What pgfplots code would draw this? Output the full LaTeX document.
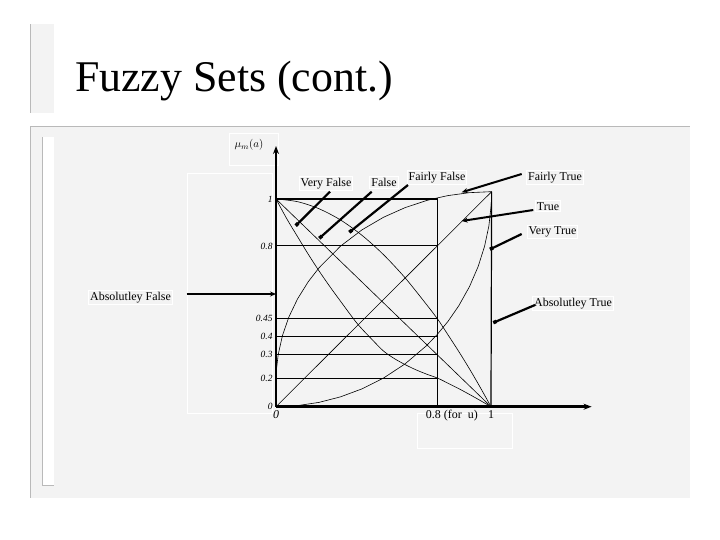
\documentclass[border=0pt]{standalone}
\usepackage{pgfplots}
\pgfplotsset{compat=1.18}
\usepackage{fontspec}
\setmainfont{Liberation Serif}
\usetikzlibrary{arrows.meta}
\definecolor{panel}{RGB}{243,243,243}
\definecolor{frame}{RGB}{185,185,185}
\begin{document}
\begin{tikzpicture}
\useasboundingbox (0,0) rectangle (720bp,-540bp);
\begin{scope}[x=1bp,y=-1bp]
\fill[white] (0,0) rectangle (720,540);
\fill[panel] (30,24) rectangle (54,113);
\draw[frame, line width=1bp] (30.5,24) -- (30.5,113);
\fill[panel] (30,126) rectangle (690,498);
\draw[frame, line width=1bp] (30,126.5) -- (690,126.5);
\draw[frame, line width=1bp] (30.5,126) -- (30.5,498);
\fill[white] (42,137) rectangle (54,485);
\draw[frame, line width=1bp] (42.5,137) -- (42.5,485) -- (54,485);
% faint text frames
\draw[white, line width=1bp] (229,133) rectangle (278,165);
\draw[white, line width=1bp] (187,173) rectangle (272,413);
\draw[white, line width=1bp] (417,413) rectangle (512,448);
\node[anchor=base west, font=\fontsize{44}{44}\selectfont, inner sep=0] at (75,91) {Fuzzy Sets (cont.)};
\end{scope}

\begin{axis}[
  at={(276bp,-406.7bp)}, anchor=south west,
  scale only axis, width=315.6bp, height=260.7bp,
  xmin=0, xmax=1.468, ymin=0, ymax=1.255,
  axis lines=left, clip=false,
  axis line style={line width=2.6bp, -{Stealth[length=8bp,width=6bp]}},
  major tick length=0pt,
  xtick={0,1}, xticklabels={\textit{0},1},
  extra x ticks={0.753}, extra x tick labels={0.8 (for\ \ u)},
  extra x tick style={tick label style={xshift=14bp}},
  xticklabel style={font=\fontsize{12}{12}\selectfont},
  ytick={0,0.137,0.252,0.339,0.4256,0.774,1},
  yticklabels={0,0.2,0.3,0.4,0.45,0.8,1},
  yticklabel style={font=\itshape\fontsize{9.5}{9.5}\selectfont},
]
% grid of reading lines
\addplot[black, line width=1.5bp] coordinates {(0,1) (0.753,1)};
\addplot[black, line width=1.1bp] coordinates {(0,0.774) (0.753,0.774)};
\addplot[black, line width=1.1bp] coordinates {(0,0.4256) (0.753,0.4256)};
\addplot[black, line width=1.1bp] coordinates {(0,0.339) (0.753,0.339)};
\addplot[black, line width=1.1bp] coordinates {(0,0.252) (0.753,0.252)};
\addplot[black, line width=1.1bp] coordinates {(0,0.137) (0.753,0.137)};
\addplot[black, line width=0.9bp] coordinates {(0.753,0) (0.753,1.006)};
% True
\addplot[black, line width=0.6bp] coordinates {(0,0) (1.003,1.035)};
% False
\addplot[black, line width=0.6bp] coordinates {(0,1) (1,0)};
% Very False
\addplot[black, line width=0.6bp, smooth] coordinates {(0,1) (0.05,0.905) (0.1,0.819) (0.15,0.734) (0.2,0.654) (0.25,0.579) (0.3,0.508) (0.378,0.40) (0.45,0.32) (0.5,0.268) (0.55,0.232) (0.6,0.203) (0.65,0.178) (0.7,0.157) (0.753,0.137) (0.8,0.113) (0.85,0.087) (0.9,0.059) (0.95,0.030) (1,0)};
% Fairly False
\addplot[black, line width=0.6bp, smooth] coordinates {(0,1) (0.1,0.987) (0.2,0.953) (0.3,0.899) (0.4,0.825) (0.5,0.732) (0.6,0.621) (0.7,0.492) (0.753,0.42) (0.8,0.346) (0.85,0.266) (0.9,0.182) (0.95,0.093) (1,0)};
% Fairly True
\addplot[black, line width=0.6bp] coordinates {(0,0.1204) (0.002,0.178) (0.01,0.2493) (0.03,0.3424) (0.06,0.4321) (0.1,0.5186) (0.15,0.6017) (0.2,0.6685) (0.3,0.7729) (0.4,0.8514) (0.5,0.9119) (0.6,0.9581) (0.7,0.9925) (0.753,1.0057) (0.8,1.0163) (0.9,1.0304) (1.003,1.0352)};
% Very True
\addplot[black, line width=0.6bp] coordinates {(0,0) (0.1,0.0052) (0.2,0.0208) (0.3,0.0474) (0.4,0.0859) (0.5,0.1378) (0.6,0.2059) (0.7,0.2937) (0.75,0.3478) (0.8,0.4107) (0.85,0.4856) (0.9,0.5781) (0.94,0.674) (0.97,0.7717) (0.99,0.8689) (1.001,0.970) (1.003,1.035)};
% Absolutely True
\addplot[black, line width=1.2bp] coordinates {(1,0) (1.003,1.035)};
% Absolutely False
\addplot[black, line width=1.2bp] coordinates {(0,0) (0,1)};
\end{axis}

\begin{scope}[x=1bp,y=-1bp]
\node[font=\fontsize{11}{11}\selectfont] at (249,145) {$\mu_m(a)$};
\tikzset{lab/.style={font=\fontsize{12}{12}\selectfont, anchor=base, inner sep=1.5bp, draw=white, line width=0.8bp},
  dotarr/.style={line width=2.2bp, -{Square[length=3.5bp,width=3.5bp]}},
  tiparr/.style={line width=2bp, -{Stealth[length=6bp,width=5bp]}}}
\node[lab] at (326,186.5) {Very False};
\node[lab] at (384,186.5) {False};
\node[lab] at (437,180) {Fairly False};
\node[lab] at (555,180) {Fairly True};
\node[lab] at (548,210) {True};
\node[lab] at (552.5,234.5) {Very True};
\node[lab] at (130.5,300) {Absolutley False};
\node[lab] at (573,306.5) {Absolutley True};
\draw[dotarr] (330,191.7) -- (295.7,225.7);
\draw[dotarr] (371.7,191.7) -- (319.3,238.3);
\draw[dotarr] (408,185) -- (349.3,232.3);
\draw[tiparr] (521.7,174) -- (461.7,192.3);
\draw[tiparr] (533.3,210) -- (461.7,221);
\draw[dotarr] (521.7,234) -- (490,249.3);
\draw[tiparr] (186.7,294) -- (276,294);
\draw[dotarr] (535,305) -- (493.3,322.7);
\end{scope}
\end{tikzpicture}
\end{document}
